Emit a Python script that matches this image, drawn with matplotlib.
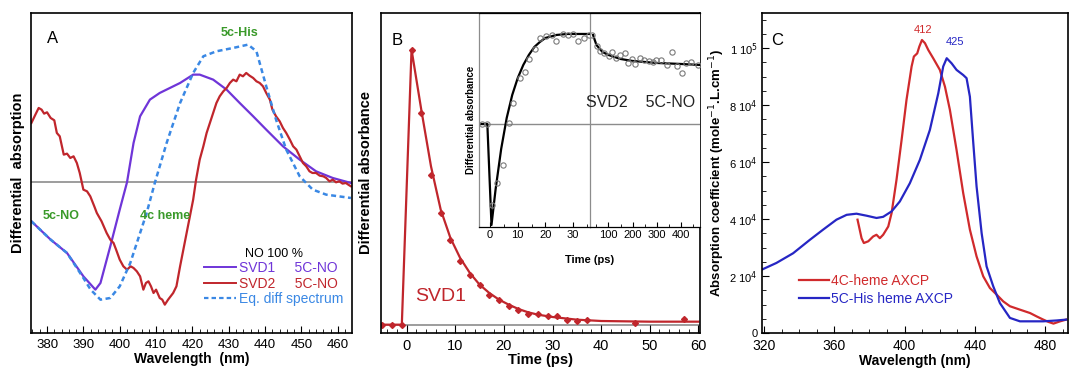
import matplotlib
matplotlib.use("Agg")
import matplotlib.pyplot as plt
from matplotlib.lines import Line2D
from matplotlib.ticker import MultipleLocator, FixedLocator, FuncFormatter

plt.rcParams['font.family'] = ['Liberation Sans', 'DejaVu Sans']

# ---------------- panel A : SVD spectra (arbitrary units)
svd1_wl = [375.7, 381, 385.5, 390, 393.3, 394.7, 397.4, 400, 402, 403.8, 405.6, 408.3, 411,
           413.8, 416.6, 420.2, 422, 425.7, 429.4, 433, 436.7, 440.3, 444.9, 449.5, 454, 458.6, 463.6]
svd1_y = [-117, -172, -212, -282, -322, -302, -192, -82, 0, 118, 198, 248, 268,
          283, 298, 323, 323, 308, 278, 238, 198, 158, 108, 68, 33, 13, -2]

eq_wl = [375.7, 381, 385.5, 390, 392, 394.7, 397.4, 400, 402.9, 405.6, 407.4, 409.7, 412.9,
         416.6, 420.2, 423, 426.6, 431.2, 435.3, 437.6, 440.3, 443, 445.8, 449.5, 453.1, 456.8, 463.6]
eq_y = [-117, -172, -212, -287, -322, -352, -347, -312, -242, -152, -92, 0, 118,
        238, 328, 378, 393, 403, 413, 393, 288, 188, 98, 18, -22, -37, -47]

svd2_wl = [375.7, 376.8, 377.7, 378.5, 379.2, 380, 381, 382, 382.7, 383.5, 384.6, 385.5, 386.4,
           387.3, 388.2, 389, 390, 391, 391.9, 393, 393.7, 395, 396.4, 397.4, 398.3, 399, 400,
           401, 402, 403, 403.8, 404.7, 405.6, 406.5, 407.2, 407.9, 408.6, 409.3, 410, 411,
           411.7, 412.4, 413.3, 414.7, 415.6, 416.6, 417.5, 418.4, 419.3, 420.2, 421, 422, 423,
           423.9, 424.8, 425.7, 426.6, 427.5, 428.5, 429.4, 430.3, 431.2, 432.1, 433, 433.9,
           434.8, 435.7, 436.7, 437.6, 438.5, 439.4, 440.3, 441.3, 442, 443, 444, 444.9, 445.8,
           446.8, 447.7, 448.6, 449.5, 450.4, 451.3, 452.2, 453, 454, 455, 456, 456.8, 457.7,
           458.6, 459.5, 460.4, 461.3, 462.2, 463, 463.6]
svd2_y = [178, 203, 223, 218, 206, 210, 193, 186, 148, 138, 83, 86, 73,
          78, 58, 28, -22, -27, -42, -72, -92, -117, -152, -172, -182, -202, -232,
          -252, -262, -252, -257, -267, -282, -322, -302, -297, -312, -332, -322, -347,
          -352, -367, -352, -332, -312, -252, -202, -152, -102, -52, 8, 68, 108,
          148, 178, 208, 238, 258, 273, 283, 298, 308, 303, 323, 318,
          328, 320, 313, 303, 298, 288, 268, 248, 218, 198, 183, 163, 148,
          128, 108, 98, 78, 58, 48, 33, 28, 28, 20, 18, 13, 3,
          8, 0, 3, -4, -2, -8, -12]

# ---------------- panel B : SVD1 kinetics
b_t = [-5, -3, -1, 1, 3, 5, 7, 9, 11, 13, 15, 17, 19, 21, 23, 25, 27, 29, 31, 33, 35, 37, 47, 57]
b_y = [0, 0, 0, 825, 635, 450, 335, 255, 190, 150, 120, 90, 75, 55, 45, 33, 33, 25, 25, 15, 10, 13, 5, 17]
b_fit_t = [-5, -3, -1, 1, 3, 5, 7, 9, 11, 13, 15, 17, 19, 21, 23, 25, 27, 30, 35, 40, 50, 60]
b_fit_y = [0, 0, 0, 825, 645, 475, 345, 260, 200, 155, 120, 95, 75, 60, 47, 37, 30, 23, 15, 11, 9, 9]

# inset : SVD2 kinetics (two time segments)
in1_t = [-3.0, -1.2, 0.8, 2.6, 4.6, 6.9, 8.4, 10.8, 12.6, 14.1, 16.2, 18, 20.1, 22.2, 24,
         26.4, 28.2, 30, 31.8, 33.8, 35.7]
in1_y = [0, 0, -8.1, -5.9, -4.1, 0.1, 2.1, 4.6, 5.2, 6.5, 7.5, 8.6, 8.8, 8.9, 8.3,
         9.0, 8.9, 9.0, 8.3, 8.6, 8.9]
in1_fit_t = [-4, -1, 0.5, 2, 4, 6, 8, 10, 12, 14, 16, 18, 20, 24, 28, 32, 36]
in1_fit_y = [0, 0, -10.1, -6.5, -2.5, 0.6, 2.9, 4.6, 5.9, 6.9, 7.7, 8.2, 8.6, 8.9, 9.0, 9.0, 9.0]
in2_t = [33, 51, 65, 83, 101, 116, 130, 149, 167, 181, 196, 210, 232, 246, 268, 283, 297,
         319, 341, 362, 384, 406, 420, 441, 470]
in2_y = [8.93, 7.76, 7.26, 7.1, 6.76, 7.16, 6.6, 6.93, 7.1, 6.1, 6.5, 6.03, 6.6, 6.36, 6.26,
         6.16, 6.43, 6.43, 5.93, 7.16, 5.83, 5.1, 6.1, 6.16, 5.93]
in2_fit_t = [36, 50, 75, 100, 150, 200, 300, 400, 480]
in2_fit_y = [8.9, 7.9, 7.2, 6.9, 6.5, 6.3, 6.1, 6.0, 5.9]

# ---------------- panel C : absorption spectra
c_blue_wl = [318.5, 327, 336.5, 346, 353.6, 361.2, 367, 372.6, 378.3, 384, 387.8, 392.6, 397.3,
             403, 408.7, 414.4, 419.2, 422, 424, 426.8, 429.6, 433.4, 435.3, 437.2, 439, 441,
             443.9, 446.7, 450.5, 454.3, 460, 465.7, 479, 486.6, 492]
c_blue_eps = [22.2, 24.6, 28, 32.7, 36.3, 39.8, 41.5, 41.9, 41.2, 40.4, 40.8, 42.7, 46.2,
              52.6, 60.8, 71.3, 84.2, 93.6, 96.5, 94.7, 92.4, 90.6, 89.5, 83, 67.8, 51.5,
              35, 23.4, 16.4, 10.5, 5.3, 4.1, 4.1, 4.4, 4.7]
c_red_wl = [373.2, 375.5, 376.8, 379.3, 382.1, 384, 385.9, 387.8, 390.7, 392.6, 395.4, 398.3,
            401.1, 404, 405.3, 407.2, 408.4, 409.9, 411.6, 413.5, 416.3, 420.1, 423, 425.8,
            429.6, 433.4, 437.2, 441, 444.8, 448.6, 452.4, 456.2, 460, 465.7, 471.5, 475.3,
            479, 481.9, 484.8, 488.6, 492]
c_red_eps = [39.8, 33.3, 31.6, 32.2, 33.9, 34.5, 33.3, 34.5, 37.4, 42.1, 53.8, 67.8,
             81.9, 93.6, 97.1, 98.2, 100.6, 102.9, 101.8, 99.4, 96.5, 92.4, 86.5, 78.4,
             64.3, 49.1, 36.3, 26.9, 19.9, 15.8, 13.5, 11.1, 9.4, 8.2, 7, 5.8,
             4.7, 3.9, 3.3, 4.1, 4.7]
c_yticks = [0, 20000, 40000, 60000, 80000, 100000]
c_ytick_labels = ['0', r'2 10$^4$', r'4 10$^4$', r'6 10$^4$', r'8 10$^4$', r'1 10$^5$']

purple = '#6f35d8'
darkred = '#c0262c'
ltblue = '#3a88e4'
green = '#3a9a2a'
gray = '#8c8c8c'

fig = plt.figure(figsize=(10.7, 3.7), dpi=100)

# ===== A
axA = fig.add_axes([0.029, 0.1, 0.300, 0.865])
axA.axhline(0, color=gray, lw=1.2, zorder=1)
axA.plot(svd1_wl, svd1_y, color=purple, lw=1.6)
axA.plot(svd2_wl, svd2_y, color=darkred, lw=1.6)
axA.plot(eq_wl, eq_y, color=ltblue, lw=1.8, ls=(0, (2, 1.4)))
axA.set_xlim(375.6, 463.9)
axA.set_ylim(-452, 508)
axA.set_yticks([])
axA.xaxis.set_major_locator(MultipleLocator(10))
axA.xaxis.set_minor_locator(MultipleLocator(2))
axA.tick_params(axis='x', which='both', direction='in', labelsize=9.5, pad=4)
axA.tick_params(axis='x', which='major', length=5)
axA.tick_params(axis='x', which='minor', length=3)
axA.set_xlabel('Wavelength  (nm)', fontsize=10, fontweight='bold', labelpad=1)
axA.set_ylabel('Differential  absorption', fontsize=10.5, fontweight='bold', labelpad=4)
axA.text(0.05, 0.905, 'A', transform=axA.transAxes, fontsize=12)
axA.text(433, 448, '5c-His', color=green, fontsize=9, fontweight='bold', ha='center', va='center')
axA.text(384, -102, '5c-NO', color=green, fontsize=9, fontweight='bold', ha='center', va='center')
axA.text(412.5, -102, '4c heme', color=green, fontsize=9, fontweight='bold', ha='center', va='center')
handles = [Line2D([], [], color=purple, lw=1.4),
           Line2D([], [], color=darkred, lw=1.4),
           Line2D([], [], color=ltblue, lw=1.6, ls=(0, (2, 1.4)))]
labels = ['SVD1     5C-NO', 'SVD2     5C-NO', 'Eq. diff spectrum']
leg = axA.legend(handles, labels, loc='lower left', bbox_to_anchor=(0.5, 0.045), frameon=False,
                 fontsize=10, labelcolor=[purple, darkred, ltblue], handlelength=2.3,
                 handletextpad=0.2, labelspacing=0.1, title='NO 100 %', title_fontsize=9)
for s in axA.spines.values():
    s.set_linewidth(1.2)

# ===== B
axB = fig.add_axes([0.356, 0.1, 0.298, 0.865])
axB.axhline(0, color=gray, lw=1.2, zorder=1)
axB.plot(b_fit_t, b_fit_y, color=darkred, lw=1.6)
axB.plot(b_t, b_y, ls='none', marker='D', ms=3, color=darkred)
axB.set_xlim(-5.3, 60.3)
axB.set_ylim(-25, 935)
axB.set_yticks([])
axB.xaxis.set_major_locator(MultipleLocator(10))
axB.xaxis.set_minor_locator(MultipleLocator(2))
axB.tick_params(axis='x', which='both', direction='in', labelsize=10.5, pad=4)
axB.tick_params(axis='x', which='major', length=6)
axB.tick_params(axis='x', which='minor', length=3)
axB.set_xlabel('Time (ps)', fontsize=10.5, fontweight='bold', labelpad=0)
axB.set_ylabel('Differential absorbance', fontsize=10.5, fontweight='bold', labelpad=6)
axB.text(0.035, 0.9, 'B', transform=axB.transAxes, fontsize=12)
axB.text(7, 60, 'SVD1', color=darkred, fontsize=14, ha='center', va='bottom')
for s in axB.spines.values():
    s.set_linewidth(1.2)

# inset, two time segments
in1 = fig.add_axes([0.4477, 0.3865, 0.1034, 0.5785])
in2 = fig.add_axes([0.5511, 0.3865, 0.1031, 0.5785])
for ax in (in1, in2):
    ax.set_facecolor('white')
    ax.axhline(0, color=gray, lw=1.0, zorder=1)
    ax.set_ylim(-10.3, 11.1)
    ax.set_yticks([])
    ax.tick_params(axis='x', which='both', direction='in', labelsize=8, pad=2)
    ax.tick_params(axis='x', which='major', length=3.5)
    ax.tick_params(axis='x', which='minor', length=2)
    for s in ax.spines.values():
        s.set_linewidth(0.9)
    ax.spines['left'].set_color(gray)
    ax.spines['right'].set_color(gray)
in1.plot(in1_fit_t, in1_fit_y, color='black', lw=1.6)
in1.plot(in1_t, in1_y, ls='none', marker='o', ms=3.8, mfc='none', mec='#7a7a7a', mew=0.8)
in1.set_xlim(-4, 36)
in1.xaxis.set_major_locator(FixedLocator([0, 10, 20, 30]))
in1.xaxis.set_minor_locator(MultipleLocator(5))
in1.spines['right'].set_visible(False)
in2.plot(in2_fit_t, in2_fit_y, color='black', lw=1.6)
in2.plot(in2_t, in2_y, ls='none', marker='o', ms=3.8, mfc='none', mec='#7a7a7a', mew=0.8)
in2.set_xlim(22, 480)
in2.xaxis.set_major_locator(FixedLocator([100, 200, 300, 400]))
in2.xaxis.set_minor_locator(MultipleLocator(50))
in2.spines['right'].set_visible(False)
in1.set_ylabel('Differential absorbance', fontsize=7, fontweight='bold', labelpad=2)
in2.text(0.0, -0.13, 'Time (ps)', transform=in2.transAxes, fontsize=8, fontweight='bold',
         ha='center', va='top')
in2.text(0.96, 0.58, 'SVD2    5C-NO', transform=in2.transAxes, fontsize=11.5,
         ha='right', va='center', color='#222222')

# ===== C
axC = fig.add_axes([0.712, 0.1, 0.286, 0.865])
axC.plot(c_red_wl, [v * 1000 for v in c_red_eps], color='#d02a2c', lw=1.6, label='4C-heme AXCP')
axC.plot(c_blue_wl, [v * 1000 for v in c_blue_eps], color='#2626c4', lw=1.6, label='5C-His heme AXCP')
axC.set_xlim(318.7, 493)
axC.set_ylim(0, 112400)
axC.xaxis.set_major_locator(MultipleLocator(40))
axC.xaxis.set_minor_locator(MultipleLocator(10))
axC.yaxis.set_major_locator(FixedLocator(c_yticks))
axC.yaxis.set_major_formatter(FuncFormatter(lambda v, p: c_ytick_labels[c_yticks.index(int(round(v)))]
                                            if int(round(v)) in c_yticks else ''))
axC.yaxis.set_minor_locator(MultipleLocator(5000))
axC.tick_params(axis='both', which='both', direction='in')
axC.tick_params(axis='both', which='major', length=5)
axC.tick_params(axis='both', which='minor', length=3)
axC.tick_params(axis='x', labelsize=10, pad=4)
axC.tick_params(axis='y', labelsize=8, pad=3)
axC.set_xlabel('Wavelength (nm)', fontsize=10, fontweight='bold', labelpad=1)
axC.set_ylabel(r'Absorption coefficient (mole$^{-1}$.L.cm$^{-1}$)', fontsize=9.5,
               fontweight='bold', labelpad=2)
axC.text(0.03, 0.9, 'C', transform=axC.transAxes, fontsize=12)
axC.text(410.6, 106400, '412', color='#d02a2c', fontsize=8, ha='center', va='center')
axC.text(428.7, 102300, '425', color='#2626c4', fontsize=8, ha='center', va='center')
axC.legend(loc='lower left', bbox_to_anchor=(0.08, 0.045), frameon=False, fontsize=10,
           labelcolor='linecolor', handlelength=2.2, handletextpad=0.1, labelspacing=0.3)
for s in axC.spines.values():
    s.set_linewidth(1.2)

fig.savefig('out.png', dpi=100)
